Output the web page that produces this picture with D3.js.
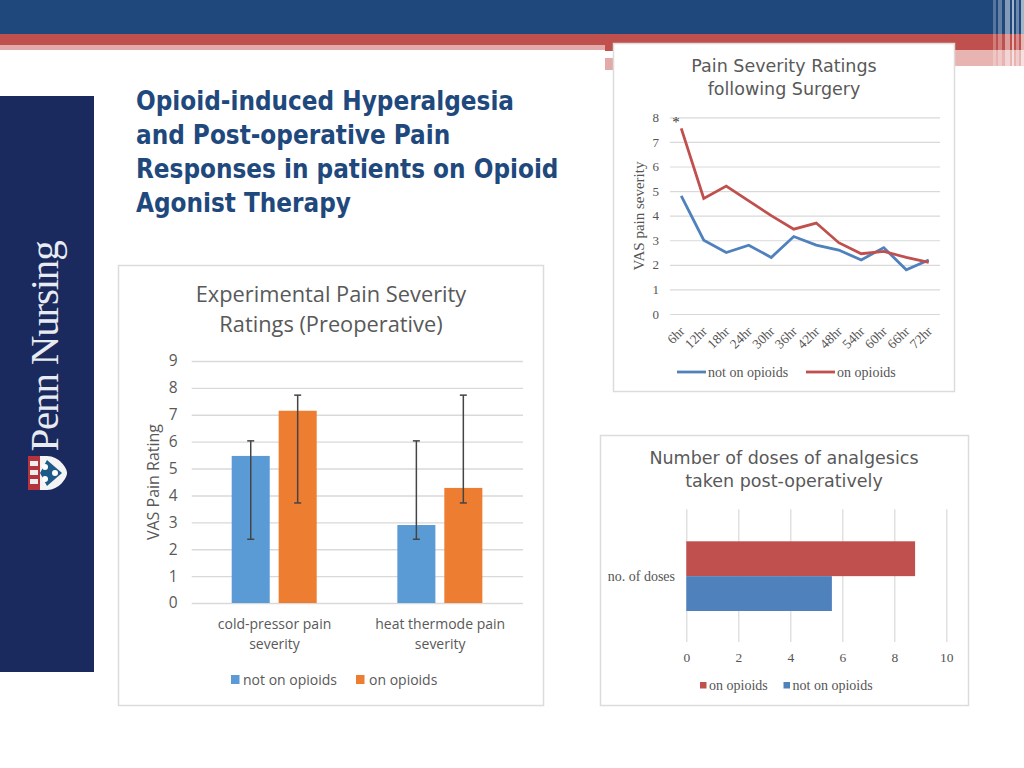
<!DOCTYPE html>
<html><head><meta charset="utf-8">
<script src="https://cdn.jsdelivr.net/npm/d3@7"></script>
<style>html,body{margin:0;padding:0;background:#fff;overflow:hidden}svg{display:block}</style>
</head><body><svg id="c" width="1024" height="768"></svg>
<script>
const slideTitle=["Opioid-induced Hyperalgesia","and Post-operative Pain","Responses in patients on Opioid","Agonist Therapy"];
const hours=["6hr","12hr","18hr","24hr","30hr","36hr","42hr","48hr","54hr","60hr","66hr","72hr"];
const notOnLine=[4.8,3.0,2.5,2.8,2.3,3.15,2.8,2.6,2.2,2.7,1.8,2.2];
const onLine=[7.55,4.7,5.2,4.6,4.0,3.45,3.7,2.9,2.45,2.55,2.3,2.1];
const lineTicks=[0,1,2,3,4,5,6,7,8];
const barCats=["cold-pressor pain|severity","heat thermode pain|severity"];
const barNot=[5.47,2.9];
const barOn=[7.15,4.28];
const errNot=[[2.37,6.03],[2.37,6.03]];
const errOn=[[3.72,7.73],[3.72,7.73]];
const barTicks=[0,1,2,3,4,5,6,7,8,9];
const doseOn=[8.8];
const doseNot=[5.6];
const doseCats=["no. of doses"];
const doseTicks=[0,2,4,6,8,10];

const BLUE="#4f81bd",RED="#c0504d",GRID="#d9d9d9",TXT="#595959";
const SERIF="'Liberation Serif',serif",SANS="'DejaVu Sans',sans-serif",COND="'DejaVu Sans Condensed','DejaVu Sans',sans-serif",OPEN="'Open Sans',sans-serif";
const svg=d3.select("#c");
const rect=(g,x,y,w,h,f,o)=>g.append("rect").attr("x",x).attr("y",y).attr("width",w).attr("height",h).attr("fill",f).attr("opacity",o==null?1:o);

// slide furniture
const deco=svg.append("g");
rect(deco,0,0,1024,34,"#1f497d");
rect(deco,0,34,1024,11,RED);
rect(deco,0,45,1024,5,"#e2abaa");
rect(deco,605,45,9,6,RED);
rect(deco,605,58,9,12,"#e2abaa");
rect(deco,950,45,74,5,RED);
rect(deco,950,50,74,16,"#e8b4b2");
[[993,3,.25],[998,4,.3],[1005,5,.45],[1012,2,.6],[1016,3,.35],[1021,3,.6]].forEach(s=>rect(deco,s[0],0,s[1],69,"#fff",s[2]));
rect(deco,0,96,94,576,"#1a2a5e");

svg.append("text").attr("transform","translate(58,451.5) rotate(-90)").attr("fill","#e8ebf2")
  .attr("font-family",SERIF).attr("font-size",41).attr("letter-spacing",-1.2).text("Penn Nursing");
const shield=svg.append("g").attr("transform","translate(28,456)");
shield.append("path").attr("d","M0,0H19C31,0 39,12 39,17C39,22 31,34 19,34H0Z").attr("fill","#f4f4f4");
rect(shield,0,0,12,34,"#b5333c");
[5,14,23].forEach(y=>rect(shield,2,y,8,5,"#eee"));
shield.append("path").attr("d","M19,4L34,17L19,30L12,17Z").attr("fill","#1e5a88");
[[17,11],[17,23],[27,17]].forEach(p=>shield.append("circle").attr("cx",p[0]).attr("cy",p[1]).attr("r",3).attr("fill","#fff"));

svg.append("g").selectAll("text").data(slideTitle).join("text")
  .attr("x",136).attr("y",(d,i)=>110+i*34).attr("fill","#1f497d")
  .attr("font-family",COND).attr("font-weight","bold").attr("font-size",25.8).text(d=>d);

function panel(x,y,w,h){rect(svg,x,y,w,h,"#fff");svg.append("rect").attr("x",x+.5).attr("y",y+.5).attr("width",w-1).attr("height",h-1).attr("fill","none").attr("stroke","#dcdcdc").attr("stroke-width",1.5);}
function title(lines,cx,y0,dy,size,font){svg.append("g").selectAll("text").data(lines).join("text").attr("x",cx).attr("y",(d,i)=>y0+i*dy).attr("text-anchor","middle").attr("fill",TXT).attr("font-family",font).attr("font-size",size).text(d=>d);}
function styleAxis(g,font,size,color){g.select(".domain").remove();g.selectAll(".tick text").attr("font-family",font).attr("font-size",size).attr("fill",color);}

// line chart
panel(613,43,342,349);
title(["Pain Severity Ratings","following Surgery"],784,72,23,17.5,SANS);
{
 const x=d3.scaleBand().domain(hours).range([670,940]);
 const y=d3.scaleLinear().domain([0,8]).range([314,117.3]);
 const ga=svg.append("g").attr("transform","translate(670,0)").call(d3.axisLeft(y).tickValues(lineTicks).tickSize(-270).tickPadding(11));
 styleAxis(ga,SERIF,13,"#555");
 ga.selectAll(".tick line").attr("stroke",GRID).attr("stroke-width",1.2);
 const gx=svg.append("g").attr("transform","translate(0,314)").call(d3.axisBottom(x).tickSize(0));
 styleAxis(gx,SERIF,13.5,"#555");
 gx.selectAll(".tick text").attr("text-anchor","end").attr("dy",0).attr("transform","translate(2,16) rotate(-45)");
 const ln=d3.line().x((d,i)=>x(hours[i])+x.bandwidth()/2).y(d=>y(d));
 svg.append("path").attr("d",ln(notOnLine)).attr("fill","none").attr("stroke",BLUE).attr("stroke-width",2.8);
 svg.append("path").attr("d",ln(onLine)).attr("fill","none").attr("stroke",RED).attr("stroke-width",2.8);
 svg.append("text").attr("x",676).attr("y",127).attr("text-anchor","middle").attr("font-family",SERIF).attr("font-size",15).attr("fill","#333").text("*");
 svg.append("text").attr("transform","translate(644,216) rotate(-90)").attr("text-anchor","middle").attr("font-family",SERIF).attr("font-size",15).attr("fill","#555").text("VAS pain severity");
 const leg=[["not on opioids",BLUE,677,708],["on opioids",RED,806,837]];
 leg.forEach(l=>{svg.append("line").attr("x1",l[2]).attr("x2",l[2]+29).attr("y1",372).attr("y2",372).attr("stroke",l[1]).attr("stroke-width",2.8);
  svg.append("text").attr("x",l[3]).attr("y",376.5).attr("font-family",SERIF).attr("font-size",14).attr("fill","#555").text(l[0]);});
}

// grouped bars
panel(118,265,426,441);
title(["Experimental Pain Severity","Ratings (Preoperative)"],331,302,30,21.8,OPEN);
{
 const x0=d3.scaleBand().domain(barCats).range([191.7,523]);
 const x1=d3.scaleBand().domain(["not","on"]).range([40,125]).paddingInner(.19);
 const y=d3.scaleLinear().domain([0,9]).range([603,361]);
 const ga=svg.append("g").attr("transform","translate(191.7,0)").call(d3.axisLeft(y).tickValues(barTicks).tickSize(-331.3).tickPadding(14));
 styleAxis(ga,OPEN,15.5,"#595959");
 ga.selectAll(".tick line").attr("stroke",GRID).attr("stroke-width",1.4);
 const series=[["not",barNot,errNot,"#5b9bd5"],["on",barOn,errOn,"#ed7d31"]];
 series.forEach(s=>{
  const g=svg.append("g");
  g.selectAll("rect").data(barCats).join("rect").attr("x",d=>x0(d)+x1(s[0])).attr("width",x1.bandwidth())
   .attr("y",(d,i)=>y(s[1][i])).attr("height",(d,i)=>y(0)-y(s[1][i])).attr("fill",s[3]);
 });
 series.forEach(s=>{
  const g=svg.append("g").attr("stroke","#444").attr("stroke-width",1.5);
  barCats.forEach((c,i)=>{
   const cx=x0(c)+x1(s[0])+x1.bandwidth()/2,[lo,hi]=s[2][i];
   g.append("line").attr("x1",cx).attr("x2",cx).attr("y1",y(lo)).attr("y2",y(hi));
   [lo,hi].forEach(v=>g.append("line").attr("x1",cx-3.5).attr("x2",cx+3.5).attr("y1",y(v)).attr("y2",y(v)));
  });
 });
 barCats.forEach(c=>{c.split("|").forEach((t,i)=>svg.append("text").attr("x",x0(c)+x0.bandwidth()/2).attr("y",629+i*19.5).attr("text-anchor","middle").attr("font-family",OPEN).attr("font-size",14).attr("fill",TXT).text(t));});
 svg.append("text").attr("transform","translate(159,482) rotate(-90)").attr("text-anchor","middle").attr("font-family",OPEN).attr("font-size",16).attr("fill",TXT).text("VAS Pain Rating");
 [["not on opioids","#5b9bd5",231,243],["on opioids","#ed7d31",356,369]].forEach(l=>{rect(svg,l[2],675,8.5,9,l[1]);
  svg.append("text").attr("x",l[3]).attr("y",684.5).attr("font-family",OPEN).attr("font-size",14).attr("fill",TXT).text(l[0]);});
}

// horizontal bars
panel(600,435,369,271);
title(["Number of doses of analgesics","taken post-operatively"],784,464,23,17.5,SANS);
{
 const x=d3.scaleLinear().domain([0,10]).range([686.3,946.3]);
 const y=d3.scaleBand().domain(["on","not"]).range([541.3,611]);
 const ga=svg.append("g").attr("transform","translate(0,642)").call(d3.axisBottom(x).tickValues(doseTicks).tickSize(-132.7).tickPadding(10));
 styleAxis(ga,SERIF,13.5,"#555");
 ga.selectAll(".tick line").attr("stroke",GRID).attr("stroke-width",1.2);
 rect(svg,x(0),y("on"),x(doseOn[0])-x(0),y.bandwidth(),RED);
 rect(svg,x(0),y("not"),x(doseNot[0])-x(0),y.bandwidth(),BLUE);
 svg.append("text").attr("x",675).attr("y",580.5).attr("text-anchor","end").attr("font-family",SERIF).attr("font-size",14).attr("fill","#555").text(doseCats[0]);
 [["on opioids",RED,700,709],["not on opioids",BLUE,783.5,792.5]].forEach(l=>{rect(svg,l[2],682,6.5,6.5,l[1]);
  svg.append("text").attr("x",l[3]).attr("y",690).attr("font-family",SERIF).attr("font-size",14).attr("fill","#555").text(l[0]);});
}
</script></body></html>
